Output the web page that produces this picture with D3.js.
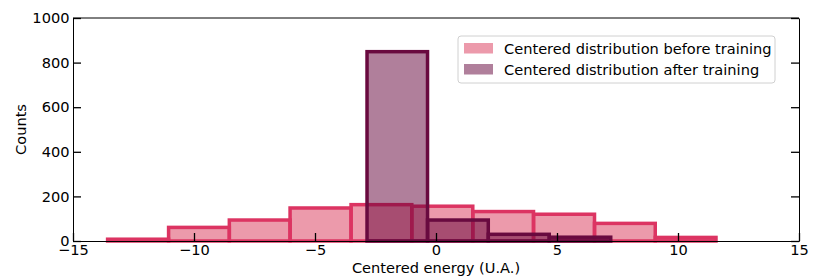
<!DOCTYPE html>
<html lang="en">
<head>
    <meta charset="UTF-8">
    <title>Centered energy histogram</title>
    <style>
        body { margin: 0; background: #fff; }
        text { font-family: 'DejaVu Sans', sans-serif; fill: #000; }
    </style>
    <script src="https://d3js.org/d3.v7.min.js"></script>
</head>
<body>
    <svg id="chart" width="830" height="280"></svg>
    <script>
        // bin edges and counts
        let beforeEdges = [-13.57, -11.05, -8.54, -6.03, -3.51, -1.0, 1.52, 4.03, 6.55, 9.06, 11.57];
        let beforeCounts = [8, 61, 94, 148, 163, 156, 132, 120, 79, 16];
        let afterEdges = [-2.85, -0.35, 2.16, 4.68, 7.22];
        let afterCounts = [849, 94, 30, 17];

        let xTicks = [-15, -10, -5, 0, 5, 10, 15];
        let yTicks = [0, 200, 400, 600, 800, 1000];

        let series = [
            {name: "Centered distribution before training", edges: beforeEdges, counts: beforeCounts,
             color: "#d93557", stroke: "#dc3462"},
            {name: "Centered distribution after training", edges: afterEdges, counts: afterCounts,
             color: "#610037", stroke: "#690a3f"}
        ];

        let margin = {top: 18, right: 31, bottom: 39, left: 73},
            width = 830 - margin.left - margin.right,
            height = 280 - margin.top - margin.bottom;

        let svg = d3.select("#chart")
            .append("g")
            .attr("transform", "translate(" + margin.left + "," + margin.top + ")");

        let x = d3.scaleLinear().domain([-15, 15]).range([0, width]);
        let y = d3.scaleLinear().domain([0, 1000]).range([height, 0]);

        // bars
        series.forEach(function(s) {
            let bins = s.counts.map((c, i) => ({x0: s.edges[i], x1: s.edges[i + 1], count: c}));
            svg.append("g").selectAll("rect")
                .data(bins)
                .enter()
                .append("rect")
                .attr("x", d => x(d.x0))
                .attr("y", d => y(d.count))
                .attr("width", d => x(d.x1) - x(d.x0))
                .attr("height", d => y(0) - y(d.count))
                .attr("fill", s.color)
                .attr("fill-opacity", 0.5)
                .attr("stroke", s.stroke)
                .attr("stroke-width", 3.5)
                .attr("stroke-linejoin", "miter");
        });

        let fmt = d => d < 0 ? "\u2212" + Math.abs(d) : "" + d;
        let fs = "14.6px";

        // axes with inward ticks
        let xAxis = svg.append("g")
            .attr("transform", "translate(0," + height + ")")
            .call(d3.axisBottom(x).tickValues(xTicks).tickFormat(fmt).tickSizeInner(-8).tickSizeOuter(0).tickPadding(3));
        let yAxis = svg.append("g")
            .call(d3.axisLeft(y).tickValues(yTicks).tickFormat(d3.format("d")).tickSizeInner(-8).tickSizeOuter(0).tickPadding(4));
        let yRight = svg.append("g")
            .attr("transform", "translate(" + width + ",0)")
            .call(d3.axisRight(y).tickValues(yTicks).tickFormat("").tickSizeInner(-8).tickSizeOuter(0));

        [xAxis, yAxis, yRight].forEach(function(a) {
            a.select(".domain").attr("stroke", "#000").attr("stroke-width", 1);
            a.selectAll(".tick line").attr("stroke", "#000").attr("stroke-width", 1.3);
            a.selectAll(".tick text")
                .style("font-family", "'DejaVu Sans', sans-serif")
                .style("font-size", fs)
                .attr("fill", "#000");
        });
        xAxis.selectAll(".tick text").attr("dy", "0.71em").attr("y", 4);
        yAxis.selectAll(".tick text").attr("x", -3.5);

        // top spine
        svg.append("line")
            .attr("x1", 0).attr("x2", width)
            .attr("y1", 0).attr("y2", 0)
            .attr("stroke", "#000").attr("stroke-width", 1);

        // axis labels
        svg.append("text")
            .attr("x", width / 2)
            .attr("y", height + 32)
            .attr("text-anchor", "middle")
            .style("font-size", fs)
            .text("Centered energy (U.A.)");

        svg.append("text")
            .attr("transform", "translate(" + (-47) + "," + (height / 2) + ") rotate(-90)")
            .attr("text-anchor", "middle")
            .style("font-size", fs)
            .text("Counts");

        // legend
        let legend = svg.append("g")
            .attr("transform", "translate(" + (458 - margin.left) + "," + (36 - margin.top) + ")");
        legend.append("rect")
            .attr("width", 317).attr("height", 47)
            .attr("rx", 3).attr("ry", 3)
            .attr("fill", "#fff").attr("fill-opacity", 0.8)
            .attr("stroke", "#d0d0d0").attr("stroke-width", 1);

        let items = legend.selectAll(".legend-item")
            .data(series)
            .enter()
            .append("g")
            .attr("class", "legend-item")
            .attr("transform", (d, i) => "translate(6," + (7 + i * 21) + ")");
        items.append("rect")
            .attr("width", 29).attr("height", 10.5)
            .attr("fill", d => d.color)
            .attr("fill-opacity", 0.5);
        items.append("text")
            .attr("x", 40)
            .attr("y", 5.5)
            .attr("dy", "0.35em")
            .style("font-size", fs)
            .text(d => d.name);
    </script>
</body>
</html>
